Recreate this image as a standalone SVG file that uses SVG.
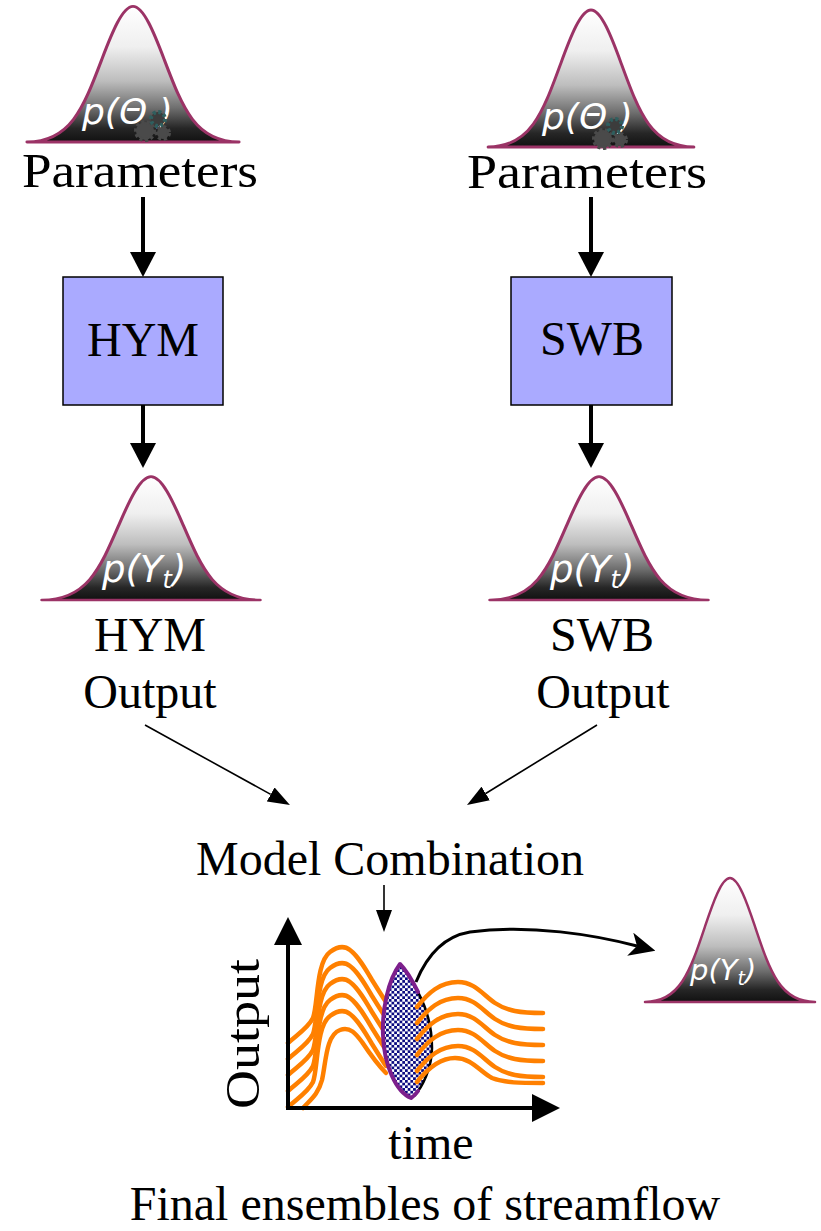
<svg xmlns="http://www.w3.org/2000/svg" xmlns:xlink="http://www.w3.org/1999/xlink" width="821" height="1231" viewBox="0 0 821 1231">
<style>
.t{font-family:"Liberation Serif","Times New Roman",serif;font-size:48px;fill:#000;text-anchor:middle}
.bt{font-family:"DejaVu Sans","Liberation Sans",sans-serif;font-style:italic;fill:#fff}
.bell{fill:url(#bellGrad);stroke:#9b3366;stroke-width:3;vector-effect:non-scaling-stroke;stroke-linejoin:round}
.box{fill:#aaaaff;stroke:#000;stroke-width:1.5}
.thick{stroke:#000;stroke-width:4;fill:none}
.thin{stroke:#000;stroke-width:1.6;fill:none}
.or{fill:none;stroke:#ff8000;stroke-width:4.5;stroke-linecap:round;stroke-linejoin:round}
.gear{fill:#4a4a4a;stroke:#4a4a4a;stroke-width:4;stroke-dasharray:3 2.5}
</style>
<defs>
<linearGradient id="bellGrad" x1="0" y1="0" x2="0" y2="1">
<stop offset="0" stop-color="#ffffff"/>
<stop offset="0.3" stop-color="#efefef"/>
<stop offset="0.55" stop-color="#bdbdbd"/>
<stop offset="0.75" stop-color="#6e6e6e"/>
<stop offset="0.9" stop-color="#262626"/>
<stop offset="1" stop-color="#111111"/>
</linearGradient>
<path id="bellShape" d="M-105,0 C-62,0 -49.6,-33.3 -31,-83.1 C-20.7,-110.8 -10.3,-137 0,-137 C10.3,-137 20.7,-110.8 31,-83.1 C49.6,-33.3 62,0 105,0 Z"/>
<pattern id="checker" patternUnits="userSpaceOnUse" width="5.4" height="5.4">
<rect width="5.4" height="5.4" fill="#ffffff"/>
<rect width="2.7" height="2.7" fill="#0a0a80"/>
<rect x="2.7" y="2.7" width="2.7" height="2.7" fill="#0a0a80"/>
</pattern>
<marker id="headL" viewBox="0 0 25 26" refX="0" refY="13" markerWidth="25" markerHeight="26" markerUnits="userSpaceOnUse" orient="auto">
<path d="M0,0 L25,13 L0,26 Z" fill="#000"/>
</marker>
<marker id="headS" viewBox="0 0 22 16" refX="0" refY="8" markerWidth="22" markerHeight="16" markerUnits="userSpaceOnUse" orient="auto">
<path d="M0,0 L22,8 L0,16 Z" fill="#000"/>
</marker>
<marker id="headAx" viewBox="0 0 28 28" refX="0" refY="14" markerWidth="28" markerHeight="28" markerUnits="userSpaceOnUse" orient="auto">
<path d="M0,0 L28,14 L0,28 Z" fill="#000"/>
</marker>
<marker id="headC" viewBox="0 0 26 24" refX="7" refY="12" markerWidth="26" markerHeight="24" markerUnits="userSpaceOnUse" orient="auto">
<path d="M0,0 L26,12 L0,24 L7,12 Z" fill="#000"/>
</marker>
</defs>
<rect width="821" height="1231" fill="#ffffff"/>

<g id="connectors">
<line class="thick" x1="143" y1="197" x2="143" y2="252" marker-end="url(#headL)"/>
<line class="thick" x1="143" y1="405" x2="143" y2="443" marker-end="url(#headL)"/>
<line class="thick" x1="591" y1="197" x2="591" y2="252" marker-end="url(#headL)"/>
<line class="thick" x1="591" y1="405" x2="591" y2="443" marker-end="url(#headL)"/>
<line class="thin" x1="145" y1="725" x2="270.7" y2="794.4" marker-end="url(#headS)"/>
<line class="thin" x1="597" y1="725" x2="485.7" y2="793.5" marker-end="url(#headS)"/>
<line class="thin" x1="384" y1="885" x2="384" y2="910" marker-end="url(#headS)"/>
</g>

<g id="params-hym">
<use href="#bellShape" class="bell" transform="translate(133,142) scale(1.01,0.99)"/>
<text class="bt" x="82" y="124" font-size="36">p(Θ )</text>
<circle class="gear" cx="145" cy="131" r="9"/>
<circle class="gear" cx="158" cy="119" r="7" style="fill:#3c3c3c;stroke:#2f5f5f"/>
<circle class="gear" cx="163" cy="133" r="6"/>
<text class="t" x="140" y="187" textLength="236" lengthAdjust="spacingAndGlyphs">Parameters</text>
</g>

<g id="params-swb">
<use href="#bellShape" class="bell" transform="translate(591,147) scale(0.98,1)"/>
<text class="bt" x="542" y="129" font-size="36">p(Θ )</text>
<circle class="gear" cx="603" cy="139" r="9"/>
<circle class="gear" cx="615" cy="126" r="7" style="fill:#3c3c3c;stroke:#2f5f5f"/>
<circle class="gear" cx="620" cy="140" r="6"/>
<text class="t" x="587" y="188" textLength="240" lengthAdjust="spacingAndGlyphs">Parameters</text>
</g>

<g id="hym">
<rect class="box" x="63" y="277" width="160" height="128"/>
<text class="t" x="143" y="356">HYM</text>
</g>

<g id="swb">
<rect class="box" x="511" y="277" width="161" height="128"/>
<text class="t" x="592" y="355">SWB</text>
</g>

<g id="hym-output">
<use href="#bellShape" class="bell" transform="translate(151,600) scale(1.04,0.9)"/>
<text class="bt" x="102" y="582" font-size="37">p(Y<tspan font-size="24" dy="6">t</tspan><tspan dy="-6">)</tspan></text>
<text class="t" x="150" y="651">HYM</text>
<text class="t" x="150" y="708">Output</text>
</g>

<g id="swb-output">
<use href="#bellShape" class="bell" transform="translate(599,600) scale(1.04,0.9)"/>
<text class="bt" x="550" y="582" font-size="37">p(Y<tspan font-size="24" dy="6">t</tspan><tspan dy="-6">)</tspan></text>
<text class="t" x="602" y="651">SWB</text>
<text class="t" x="603" y="708">Output</text>
</g>

<g id="model-combination">
<text class="t" x="390" y="875">Model Combination</text>
</g>

<g id="ensemble-chart">
<g id="left-curves">
<path class="or" d="M288,1043 C298,1034 308,1028 313,1018 C318,1005 316,962 330,952 C338,946 345,946 350,950 C358,956 365,968 372,980 C377,988 382,996 386,1002"/>
<path class="or" transform="translate(0,16)" d="M288,1043 C298,1034 308,1028 313,1018 C318,1005 316,962 330,952 C338,946 345,946 350,950 C358,956 365,968 372,980 C377,988 382,996 386,1002"/>
<path class="or" transform="translate(0,32)" d="M288,1043 C298,1034 308,1028 313,1018 C318,1005 316,962 330,952 C338,946 345,946 350,950 C358,956 365,968 372,980 C377,988 382,996 386,1002"/>
<path class="or" transform="translate(0,48)" d="M288,1043 C298,1034 308,1028 313,1018 C318,1005 316,962 330,952 C338,946 345,946 350,950 C358,956 365,968 372,980 C377,988 382,996 386,1002"/>
<path class="or" transform="translate(0,64)" d="M288,1043 C298,1034 308,1028 313,1018 C318,1005 316,962 330,952 C338,946 345,946 350,950 C358,956 365,968 372,980 C377,988 382,996 386,1002"/>
<path class="or" d="M303,1108 C310,1100 318,1095 322,1080 C326,1062 326,1035 340,1030 C350,1026 356,1034 362,1042 C370,1054 378,1065 386,1073"/>
</g>
<line class="thick" x1="288" y1="1110" x2="288" y2="945" marker-end="url(#headAx)"/>
<line class="thick" x1="286" y1="1108" x2="532" y2="1108" marker-end="url(#headAx)"/>
<g id="lens">
<path d="M400,964 C388,980 382,1010 383,1035 C384,1065 396,1092 411,1098 C422,1088 432,1068 432,1048 C432,1025 425,1005 418,992 C412,980 406,970 400,964 Z" fill="url(#checker)"/>
<path d="M418,992 C425,1005 432,1025 432,1048 C432,1068 422,1088 414,1096" fill="none" stroke="#000" stroke-width="2.5"/>
<path d="M418,992 C412,980 406,970 400,964 C388,980 382,1010 383,1035 C384,1065 396,1092 411,1098 C414,1096 416,1094 418,1091" fill="none" stroke="#7d1f8c" stroke-width="4" stroke-linejoin="round" stroke-linecap="round"/>
</g>
<g id="right-curves">
<path class="or" d="M417,1007 C428,993 440,982 458,982 C475,982 483,995 495,1003 C507,1011 520,1013 543,1013"/>
<path class="or" transform="translate(0,16)" d="M417,1007 C428,993 440,982 458,982 C475,982 483,995 495,1003 C507,1011 520,1013 543,1013"/>
<path class="or" transform="translate(0,32)" d="M417,1007 C428,993 440,982 458,982 C475,982 483,995 495,1003 C507,1011 520,1013 543,1013"/>
<path class="or" transform="translate(0,48)" d="M417,1007 C428,993 440,982 458,982 C475,982 483,995 495,1003 C507,1011 520,1013 543,1013"/>
<path class="or" transform="translate(0,64)" d="M417,1007 C428,993 440,982 458,982 C475,982 483,995 495,1003 C507,1011 520,1013 543,1013"/>
<path class="or" d="M417,1082 C428,1068 440,1058 455,1058 C472,1058 480,1072 492,1078 C505,1083 520,1083 543,1083"/>
</g>
<path d="M416,982 C425,960 440,937 470,932 C530,924 595,935 637,946" fill="none" stroke="#000" stroke-width="3" marker-end="url(#headC)"/>
<text class="t" transform="translate(259,1034) rotate(-90)" textLength="150" lengthAdjust="spacingAndGlyphs">Output</text>
<text class="t" x="431" y="1159">time</text>
</g>

<g id="final-pdf">
<use href="#bellShape" class="bell" transform="translate(730,1002) scale(0.81,0.905)"/>
<text class="bt" x="690" y="980" font-size="29">p(Y<tspan font-size="19" dy="5">t</tspan><tspan dy="-5">)</tspan></text>
</g>

<g id="caption">
<text class="t" x="425" y="1220">Final ensembles of streamflow</text>
</g>
</svg>
